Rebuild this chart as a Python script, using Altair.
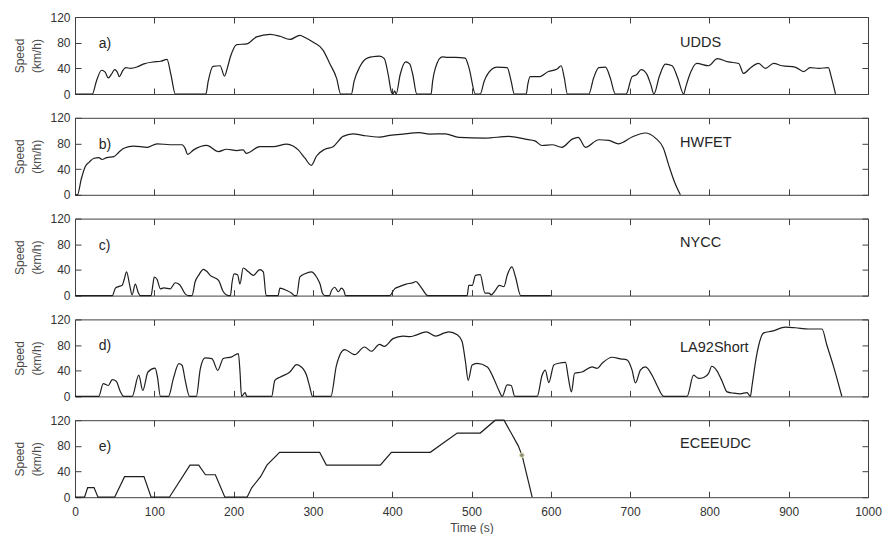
import altair as alt
import pandas as pd

# ---------------- data ----------------
udds_t = [0, 21.8, 27, 33.5, 38, 42, 46, 50, 53, 56, 60, 64, 70, 78, 87, 99, 108, 116, 121, 126.5,
          165, 168, 174, 183, 188.5, 192, 196, 204, 216.6, 229, 246, 258.5, 271, 283.6, 290, 300, 313, 321, 330, 335,
          348.5, 352, 359, 367, 375, 384, 390, 395, 399, 401, 403, 405, 410, 417, 422, 426, 431,
          449, 451, 454.6, 463, 470, 480, 492, 497, 505,
          511, 516, 526, 532, 545, 550, 554,
          569, 571, 574, 585, 597, 608, 613, 617, 621,
          648, 654, 660.5, 669, 675, 681.5,
          695, 702.5, 708, 714, 721, 726, 730, 737, 744.5, 753, 760, 767.6,
          770, 774, 784, 799, 810, 824, 837, 843, 852, 862, 870.6, 881, 891.6, 908, 919, 927, 938, 950, 954, 959]
udds_v = [0, 0, 20, 37, 34, 25, 31, 38, 35, 27, 36, 41, 40, 42, 47, 50, 51, 54, 30, 0,
          0, 20, 43, 44, 28, 40, 58, 77, 78, 89, 93, 90, 85, 91.5, 88, 81, 68, 48, 24, 0,
          0, 20, 42, 55, 58, 59, 55, 30, 3, 0, 5, 0, 30, 50, 47, 30, 0,
          0, 20, 41, 58, 57, 57, 56, 40, 0,
          0, 20, 39, 42, 41, 20, 0,
          0, 15, 27, 27, 35, 39, 44, 25, 0,
          0, 25, 41, 42, 25, 0,
          0, 27, 30, 38, 31, 15, 0, 28, 46.5, 44, 25, 0,
          10, 26, 47.6, 44, 55, 50, 47.6, 32, 41, 47.6, 40, 47.6, 44, 42, 35, 41, 40, 41, 25, 0]

hwfet_t = [0, 3, 8, 13, 18, 24, 30, 34, 40, 49, 55, 61.6, 74, 91, 103.5, 120, 135, 139, 142, 149.6,
           166, 181, 191, 204, 212, 216, 233, 250, 267, 275, 281.5, 290, 298, 304.6, 315, 325.5, 338,
           350.6, 363, 384, 397, 413.5, 434, 447, 467, 484, 517.6, 547, 568, 580, 589, 601.7, 614,
           627, 634.5, 643.7, 660.5, 673, 685.7, 702.5, 719, 732, 742, 748.7, 756, 763.4]
hwfet_v = [0, 0, 25, 44, 51, 57, 58, 55, 58, 59.5, 66, 72.6, 76, 74, 79.5, 78, 78, 72, 63, 70,
           77, 67.4, 71, 69, 70, 64.7, 75, 75, 79, 76, 70, 57, 46, 60.5, 71, 75, 91,
           95, 92.6, 90, 92.6, 94.7, 96.8, 94.7, 95, 89.5, 88.4, 91, 86.8, 84, 76.8, 78, 74,
           86.8, 89.5, 74, 85.8, 84.7, 79.5, 90, 96.3, 88.4, 72.6, 46.3, 20, 0]

nycc_t = [0, 47, 51, 55, 59.5, 62, 65, 69, 72, 76, 80, 82.5,
          96, 98, 100, 103.5, 107.7, 112, 120, 126.5, 132, 139, 143,
          147.5, 151.6, 156, 162, 166, 170.5, 181, 187, 193.5,
          196, 198, 200.7, 205, 208, 212, 218.7, 225, 233, 237.5, 241,
          256, 258.5, 267, 273, 277,
          279.5, 283.6, 290, 298, 304.6, 307, 309, 312, 315,
          321, 323.4, 327.6, 332, 336, 339, 341,
          396.7, 403, 409, 417.7, 426, 430, 434, 437.8, 445,
          494.5, 496.6, 501, 505, 511, 517, 522, 525, 530, 535, 541, 545, 551, 555.5, 562, 600]
nycc_v = [0, 0, 11.6, 14, 16, 25, 37, 16, 1, 18, 4, 0,
          0, 15, 29, 25, 10.5, 12, 10.5, 20, 17, 2.6, 0,
          0, 22, 32, 41, 38, 31.6, 23.7, 6, 0,
          0, 20, 34, 32.6, 18, 43, 37, 31.6, 40.5, 37, 0,
          0, 11.6, 8, 4, 0,
          0, 29, 34, 37, 29, 23.7, 18, 4, 0,
          0, 8, 13, 6, 11.6, 8, 0,
          0, 10.5, 14, 18, 20, 22, 17, 10.5, 0,
          0, 16, 16, 31.6, 32.6, 4, 4, 1, 8, 16, 14, 31.6, 44.7, 29, 0, 0]

la92_t = [0, 30, 35.6, 42, 47, 52, 57, 61.6,
          72, 80.4, 85.5, 92, 101, 104, 107.7,
          118, 124, 131, 135, 139, 144.5,
          153, 158, 164, 172.6, 180, 187, 197.7, 206, 208, 210, 214.5, 216.6,
          248, 252, 258.5, 271, 279.4, 283, 287.8, 292, 296, 299.5,
          322.6, 329.7, 340, 352.7, 365, 373.7, 384, 390, 401, 413.5, 422, 430, 442.8, 455, 466,
          471.4, 482, 488, 492.4, 495.8, 500.8, 507, 520, 528, 534.5, 538.7, 545, 550, 554.6,
          582.8, 589, 593, 597.5, 603.8, 610, 618.5, 622, 626, 630, 639.5, 652, 658.4, 664.7,
          677.3, 687.8, 696, 702.5, 706.7, 713, 719.3, 727.7, 734, 742.4,
          771.8, 780, 786.5, 792.9, 799, 803, 809.7, 816, 822.3, 830.7, 839, 847.5, 851.7,
          853.8, 860, 868.5, 879, 896, 908.4, 925, 942, 948, 956.7, 967]
la92_v = [0, 0, 20, 17, 26, 23.5, 8, 0,
          0, 33, 9.4, 38, 44, 30, 0,
          0, 27.6, 51, 48.5, 25, 0,
          0, 43, 60, 59, 40.7, 59, 61.6, 66.8, 40, 0, 6, 0,
          0, 25, 30, 38, 49.6, 48, 43, 33, 15, 0,
          0, 48.5, 73, 65, 77, 70.4, 81, 78, 90, 94, 93, 95.5, 100.7, 94, 99,
          100.5, 96, 86, 54, 25, 49, 51.6, 46, 28, 9.5, 0, 18, 17, 0,
          0, 33, 41, 21.6, 49, 51.6, 53, 30, 7, 36, 38, 46, 43.7, 51.6,
          61, 58.4, 57, 41, 21, 41, 46, 33, 17, 0,
          0, 33, 28, 29.5, 35.8, 47, 39.5, 23.7, 7, 5, 4, 6, 0,
          17, 67, 99, 101.6, 108, 107, 105, 105, 80.5, 46, 0]

ece_t = [0, 12, 16, 24, 29, 50, 62.5, 87, 96, 119, 145, 156, 164.5, 177, 189,
         217, 223, 234, 242, 258, 308.5, 317, 385, 399, 448, 482, 511, 530, 541, 559, 564, 576.5]
ece_v = [0, 0, 15, 15, 0, 0, 32, 32, 0, 0, 50, 50, 35, 35, 0,
         0, 15, 32, 50, 70, 70, 50, 50, 70, 70, 100, 100, 120, 120, 80, 64, 0]

tags = ["a)", "b)", "c)", "d)", "e)"]
names = ["UDDS", "HWFET", "NYCC", "LA92Short", "ECEEUDC"]
marker_t = [563.5]
marker_v = [65.5]

x_ticks = list(range(0, 1001, 100))
y_ticks = [0, 40, 80, 120]

# ---------------- layout ----------------
W, H = 793, 77
name_y = [80, 80.5, 81.5, 75, 83.5]
FONT = "Liberation Sans"


def panel(t, v, tag, name, ny, bottom, marker=False, interp="linear"):
    df = pd.DataFrame({"t": t, "v": v})
    xs = alt.Scale(domain=[0, 1000], nice=False, zero=False)
    ys = alt.Scale(domain=[0, 120], nice=False)
    base = alt.Chart(df)

    if bottom:
        xax = alt.Axis(orient="bottom", values=x_ticks, ticks=False, domain=False, grid=False,
                       labelPadding=9, labelFlush=False, format="d",
                       title="Time (s)", titlePadding=5)
    else:
        xax = None

    lab = base.mark_line(strokeOpacity=0).encode(
        x=alt.X("t:Q", scale=xs, axis=xax),
        y=alt.Y("v:Q", scale=ys, axis=alt.Axis(orient="left", values=y_ticks, ticks=False,
                                               domain=False, grid=False, labelPadding=5,
                                               labelFlush=False,
                                               title=["Speed", "(km/h)"], titlePadding=6)),
    )
    tk1 = base.mark_line(strokeOpacity=0).encode(
        x=alt.X("t:Q", scale=xs, axis=alt.Axis(orient="bottom", offset=-H, values=x_ticks,
                                               labels=False, domain=False, grid=False,
                                               tickSize=6, title=None)),
        y=alt.Y("v:Q", scale=ys, axis=alt.Axis(orient="right", offset=-W, values=y_ticks,
                                               labels=False, domain=False, grid=False,
                                               tickSize=6, title=None)),
    )
    line = base.mark_line(color="#1e1e1e", strokeWidth=1.2, interpolate=interp).encode(
        x=alt.X("t:Q", scale=xs, axis=alt.Axis(orient="top", offset=-H, values=x_ticks,
                                               labels=False, domain=False, grid=False,
                                               tickSize=6, title=None)),
        y=alt.Y("v:Q", scale=ys, axis=alt.Axis(orient="left", offset=-W, values=y_ticks,
                                               labels=False, domain=False, grid=False,
                                               tickSize=6, title=None)),
    )
    t_tag = alt.Chart(pd.DataFrame({"label": [tag]})).mark_text(
        align="left", baseline="middle", fontSize=14, font=FONT, color="#262626"
    ).encode(
        text="label:N",
        x=alt.XDatum(30, type="quantitative", axis=None),
        y=alt.YDatum(78, type="quantitative", axis=None),
    )
    t_name = alt.Chart(pd.DataFrame({"label": [name]})).mark_text(
        align="left", baseline="middle", fontSize=14.5, font=FONT, color="#262626"
    ).encode(
        text="label:N",
        x=alt.XDatum(763, type="quantitative", axis=None),
        y=alt.YDatum(ny, type="quantitative", axis=None),
    )
    layers = [lab, tk1, line, t_tag, t_name]
    if marker:
        mdf = pd.DataFrame({"t": marker_t, "v": marker_v})
        dot = alt.Chart(mdf).mark_circle(size=22, color="#8a8a7a", stroke="#e8e8b8",
                                         strokeWidth=1, opacity=1).encode(
            x=alt.X("t:Q", scale=xs, axis=None),
            y=alt.Y("v:Q", scale=ys, axis=None),
        )
        layers.append(dot)
    return alt.layer(*layers).resolve_axis(x="independent", y="independent").properties(
        width=W, height=H)


series = [(udds_t, udds_v), (hwfet_t, hwfet_v), (nycc_t, nycc_v), (la92_t, la92_v), (ece_t, ece_v)]
panels = []
for i, (t, v) in enumerate(series):
    panels.append(panel(t, v, tags[i], names[i], name_y[i], bottom=(i == 4), marker=(i == 4),
                        interp=("linear" if i == 4 else "monotone")))

chart = alt.vconcat(*panels, spacing=23.8, bounds="flush").properties(
    padding={"left": 5, "top": 2, "right": 0, "bottom": 0}
).configure_view(
    stroke="#404040", strokeWidth=1
).configure_axis(
    labelFont=FONT, labelFontSize=12, labelColor="#333333",
    titleFont=FONT, titleFontSize=12, titleFontWeight="normal", titleColor="#4a4a4a",
    titleLineHeight=17, tickColor="#404040", tickWidth=1
).configure_text(font=FONT)

chart.save("out.html", embed_options={"renderer": "svg", "actions": False})
